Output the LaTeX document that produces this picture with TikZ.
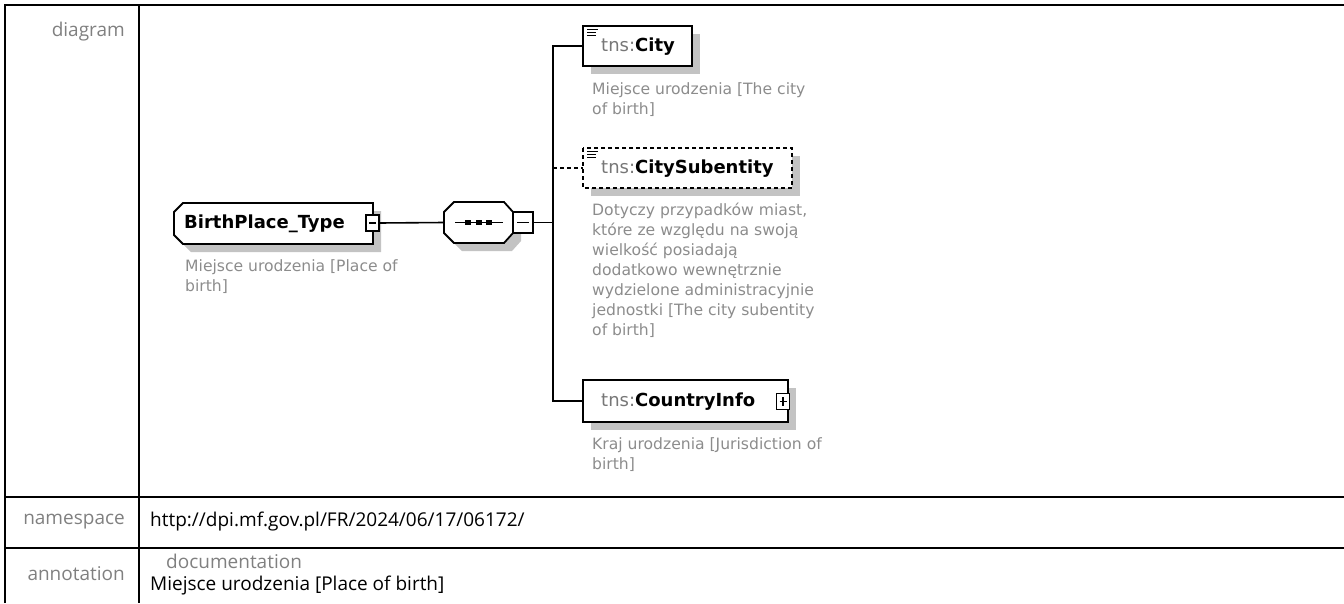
\documentclass[tikz,border=0pt]{standalone}
\usepackage{fontspec}
\setmainfont{Open Sans}
\newfontfamily\diafont{DejaVu Sans}
\definecolor{lblgray}{HTML}{808080}
\definecolor{descgray}{HTML}{8C8C8C}
\definecolor{nsgray}{HTML}{777777}
\definecolor{shadowgray}{HTML}{C3C3C3}
\begin{document}
\begin{tikzpicture}[x=1pt,y=-1pt,
  tline/.style={line width=2pt,black},
  lbl/.style={font=\fontsize{19}{23}\selectfont,text=lblgray,anchor=east,inner sep=0pt},
  val/.style={font=\fontsize{19}{23}\selectfont,text=black,anchor=west,inner sep=0pt},
  shadowed/.style={preaction={draw=none,fill=shadowgray,transform canvas={xshift=8pt,yshift=-8pt}}},
  eline/.style={line width=1.8pt,black},
  conn/.style={line width=1.6pt,black},
  dashline/.style={line width=1.6pt,black,dash pattern=on 4pt off 3pt},
  elem/.style={rectangle,draw=none,inner sep=0pt,outer sep=0pt},
  expbox/.style={rectangle,draw=black,line width=1.3pt,fill=white,inner sep=0pt,outer sep=0pt,minimum width=13pt,minimum height=16pt},
  ttl/.style={font=\diafont\fontsize{18}{22}\selectfont,anchor=west,inner sep=0pt},
  desc/.style={font=\diafont\fontsize{15.6}{20}\selectfont,text=descgray,anchor=north west,align=left,inner sep=0pt},
]
\useasboundingbox (0,0) rectangle (1344,603);
% ---------------- table ----------------
\draw[tline] (5,603) -- (5,5) -- (1344,5);
\draw[tline] (139,5) -- (139,603);
\draw[tline] (5,497) -- (1344,497);
\draw[tline] (5,548) -- (1344,548);
\node[lbl] (lbldiagram) at (125,32) {diagram};
\node[lbl] (lblns) at (125,522) {namespace};
\node[lbl] (lblann) at (125,574) {annotation};
\node[val] (nsval) at (150,522) {http://dpi.mf.gov.pl/FR/2024/06/17/06172/};
\node[val,text=lblgray] (docl) at (166,561) {documentation};
\node[val] (docval) at (150,586) {Miejsce urodzenia [Place of birth]};
% ---------------- diagram ----------------
\coordinate (busx) at (553,0);
% BirthPlace_Type
\node[elem,minimum width=199pt,minimum height=41pt] (bp) at (273.5,223.5) {};
\draw[eline,fill=white,shadowed] ([xshift=9pt]bp.north west) -- (bp.north east) -- (bp.south east)
  -- ([xshift=9pt]bp.south west) -- ([yshift=9pt]bp.south west) -- ([yshift=-9pt]bp.north west) -- cycle;
\node[ttl,font=\diafont\bfseries\fontsize{18}{22}\selectfont] (bptxt) at (184,224) {BirthPlace\_Type};
\node[expbox] (bpexp) at (372.5,223) {};
\draw[line width=1.3pt] ([xshift=3pt]bpexp.west) -- ([xshift=-3pt]bpexp.east);
\node[desc] (bpdesc) at (185,259) {Miejsce urodzenia [Place of\\birth]};
% sequence
\node[elem,minimum width=69pt,minimum height=41pt] (seq) at (478.5,222.5) {};
\draw[eline,fill=white,shadowed] ([xshift=10pt]seq.north west) -- ([xshift=-9pt]seq.north east) -- ([yshift=-10pt]seq.north east)
  -- ([yshift=10pt]seq.south east) -- ([xshift=-9pt]seq.south east) -- ([xshift=10pt]seq.south west)
  -- ([yshift=10pt]seq.south west) -- ([yshift=-10pt]seq.north west) -- cycle;
\draw[line width=1.6pt] ([xshift=11pt]seq.west) -- ([xshift=-10pt]seq.east);
\foreach \dx in {468,479,489}{\fill (\dx-2.8,219.8) rectangle (\dx+2.8,225.4);}
\node[expbox,minimum width=20pt,minimum height=21pt] (seqexp) at (523,222.5) {};
\draw[line width=1.3pt] ([xshift=4pt]seqexp.west) -- ([xshift=-4pt]seqexp.east);
\draw[conn] (bpexp.east) -- (seq.west);
\draw[conn] (seqexp.east) -- (seqexp.east -| busx);
% City
\node[elem,minimum width=109pt,minimum height=40pt] (city) at (637.5,46) {};
\draw[eline,fill=white,shadowed] (city.north west) rectangle (city.south east);
\draw[line width=1.2pt] (587,29.5) -- (598,29.5) (587,32.5) -- (596,32.5) (587,35.5) -- (596,35.5);
\node[ttl] (citytxt) at (601,47) {\textcolor{nsgray}{tns:}\textbf{City}};
\node[desc] (citydesc) at (592,82) {Miejsce urodzenia [The city\\of birth]};
% CitySubentity
\node[elem,minimum width=209pt,minimum height=40pt] (citysub) at (687.5,168) {};
\draw[dashline,line width=1.8pt,fill=white,shadowed] (citysub.north west) rectangle (citysub.south east);
\draw[line width=1.2pt] (587,151.5) -- (598,151.5) (587,154.5) -- (596,154.5) (587,157.5) -- (596,157.5);
\node[ttl] (citysubtxt) at (601,169) {\textcolor{nsgray}{tns:}\textbf{CitySubentity}};
\node[desc] (citysubdesc) at (592,203) {Dotyczy przypadków miast,\\które ze względu na swoją\\wielkość posiadają\\dodatkowo wewnętrznie\\wydzielone administracyjnie\\jednostki [The city subentity\\of birth]};
% CountryInfo
\node[elem,minimum width=205pt,minimum height=42pt] (country) at (685.5,401) {};
\draw[eline,fill=white,shadowed] (country.north west) rectangle (country.south east);
\node[ttl] (countrytxt) at (601,402) {\textcolor{nsgray}{tns:}\textbf{CountryInfo}};
\node[expbox] (countryexp) at (783,401.5) {};
\draw[line width=1.3pt] ([xshift=3pt]countryexp.west) -- ([xshift=-3pt]countryexp.east)
  ([yshift=-3.5pt]countryexp.north) -- ([yshift=3.5pt]countryexp.south);
\node[desc] (countrydesc) at (592,437) {Kraj urodzenia [Jurisdiction of\\birth]};
% connectors to children
\draw[conn] (city.west) -- (city.west -| busx) -- (country.west -| busx) -- (country.west);
\draw[dashline] (citysub.west -| busx) -- (citysub.west);
\end{tikzpicture}
\end{document}
